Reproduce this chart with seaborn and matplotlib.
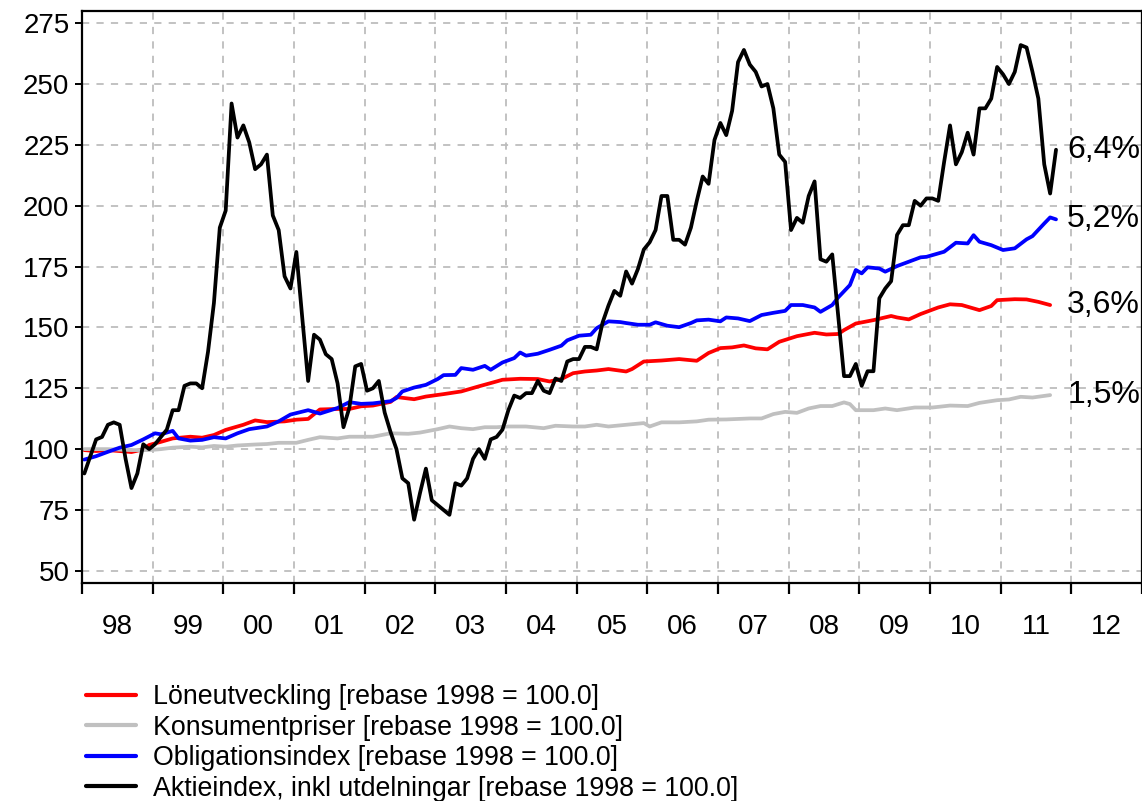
import numpy as np
import pandas as pd
import matplotlib
matplotlib.use("Agg")
import matplotlib.pyplot as plt
import seaborn as sns

# Monthly series starting January 1998, index = months since Jan 1998
START_YEAR = 1998

# Aktieindex (monthly, Jan 1998 .. Oct 2011)
aktie_values = [
    90, 97, 104, 105, 110, 111, 110, 96, 84, 90,
    102, 100, 102, 105, 108, 116, 116, 126, 127, 127,
    125, 140, 160, 191, 198, 242, 228, 233, 226, 215,
    217, 221, 196, 190, 171, 166, 181, 154, 128, 147,
    145, 139, 137, 127, 109, 117, 134, 135, 124, 125,
    128, 115, 107, 100, 88, 86, 71, 82, 92, 79,
    77, 75, 73, 86, 85, 88, 96, 100, 96, 104,
    105, 108, 116, 122, 121, 123, 123, 128, 124, 123,
    129, 128, 136, 137, 137, 142, 142, 141, 152, 159,
    165, 163, 173, 168, 174, 182, 185, 190, 204, 204,
    186, 186, 184, 191, 202, 212, 209, 227, 234, 229,
    239, 259, 264, 258, 255, 249, 250, 240, 221, 218,
    190, 195, 193, 204, 210, 178, 177, 180, 155, 130,
    130, 135, 126, 132, 132, 162, 166, 169, 188, 192,
    192, 202, 200, 203, 203, 202, 218, 233, 217, 222,
    230, 221, 240, 240, 244, 257, 254, 250, 255, 266,
    265, 255, 244, 217, 205, 223,
]
aktie_months = list(range(len(aktie_values)))

# Löneutveckling (read at selected months)
lon_months = [0, 2, 4, 6, 8, 10, 11, 13, 15, 18,
              20, 22, 24, 27, 29, 31, 34, 36, 38, 40,
              43, 45, 47, 49, 52, 53, 56, 58, 61, 64,
              67, 70, 71, 74, 77, 79, 81, 83, 85, 87,
              89, 92, 93, 95, 98, 101, 104, 106, 108, 110,
              112, 114, 116, 118, 121, 124, 126, 128, 129, 131,
              134, 137, 138, 140, 142, 145, 147, 149, 152, 154,
              155, 158, 160, 162, 164]
lon_values = [99.6, 99.2, 99.6, 99.2, 98.8, 99.9, 101.7, 103.0, 104.4, 105.1,
              104.7, 105.8, 107.9, 110.0, 111.8, 111.1, 111.4, 112.1, 112.4, 116.3,
              116.5, 116.5, 117.6, 117.9, 119.4, 121.4, 120.5, 121.6, 122.6, 123.7,
              125.8, 127.8, 128.5, 128.9, 128.8, 127.8, 128.8, 131.2, 131.9, 132.3,
              132.9, 131.9, 132.9, 136.0, 136.4, 137.0, 136.3, 139.5, 141.5, 141.8,
              142.6, 141.4, 141.0, 144.1, 146.4, 147.8, 147.1, 147.3, 148.9, 151.6,
              153.0, 154.7, 154.1, 153.3, 155.5, 158.2, 159.5, 159.2, 157.1, 158.8,
              161.2, 161.6, 161.5, 160.5, 159.2]

# Konsumentpriser
kpi_months = [0, 4, 8, 11, 13, 15, 18, 20, 22, 24,
              26, 29, 31, 33, 36, 38, 40, 43, 45, 49,
              52, 55, 57, 60, 62, 64, 66, 68, 70, 72,
              75, 78, 80, 83, 85, 87, 89, 92, 95, 96,
              98, 101, 104, 106, 109, 113, 115, 117, 119, 121,
              123, 125, 127, 129, 130, 131, 134, 136, 138, 141,
              144, 147, 150, 152, 155, 157, 159, 161, 164]
kpi_values = [100.0, 100.0, 99.6, 99.6, 100.0, 100.6, 101.0, 100.7, 101.3, 101.0,
              101.5, 101.9, 102.1, 102.6, 102.6, 103.8, 104.9, 104.4, 105.1, 105.1,
              106.5, 106.3, 106.8, 108.2, 109.3, 108.6, 108.2, 109.0, 109.0, 109.3,
              109.3, 108.6, 109.6, 109.3, 109.3, 110.0, 109.3, 110.0, 110.7, 109.3,
              111.0, 111.0, 111.4, 112.1, 112.2, 112.6, 112.6, 114.4, 115.3, 114.9,
              116.7, 117.7, 117.7, 119.2, 118.5, 116.0, 116.0, 116.7, 116.0, 117.1,
              117.1, 117.9, 117.7, 119.0, 120.1, 120.4, 121.5, 121.2, 122.2]

# Obligationsindex
obl_months = [0, 2, 4, 6, 8, 10, 12, 13, 15, 16,
              18, 20, 22, 24, 26, 28, 31, 33, 35, 38,
              40, 43, 45, 47, 49, 52, 53, 54, 56, 58,
              60, 61, 63, 64, 66, 68, 69, 71, 73, 74,
              75, 77, 79, 81, 82, 84, 86, 87, 89, 91,
              92, 94, 96, 97, 99, 101, 103, 104, 106, 108,
              109, 111, 113, 115, 117, 119, 120, 122, 124, 125,
              127, 128, 130, 131, 132, 133, 135, 136, 138, 140,
              142, 143, 146, 148, 150, 151, 152, 154, 156, 158,
              160, 161, 163, 164, 165]
obl_values = [95.7, 97.1, 98.9, 100.6, 101.7, 104.0, 106.5, 106.1, 107.5, 104.4,
              103.5, 103.8, 104.9, 104.4, 106.5, 108.2, 109.3, 111.4, 114.2, 116.0,
              114.6, 116.9, 119.3, 118.6, 118.8, 119.7, 121.0, 123.7, 125.3, 126.4,
              128.8, 130.4, 130.5, 133.3, 132.6, 134.2, 132.6, 135.6, 137.4, 139.7,
              138.4, 139.2, 140.8, 142.5, 144.7, 146.6, 147.0, 149.7, 152.5, 152.2,
              151.8, 151.1, 151.1, 152.1, 150.7, 150.1, 151.8, 152.9, 153.2, 152.5,
              154.1, 153.7, 152.6, 155.1, 156.0, 156.8, 159.2, 159.2, 158.2, 156.4,
              159.2, 162.3, 167.4, 173.6, 172.2, 174.7, 174.2, 172.9, 175.2, 177.0,
              178.8, 179.0, 181.1, 184.8, 184.5, 187.9, 185.2, 183.8, 181.8, 182.5,
              186.2, 187.5, 192.7, 195.2, 194.4]

series_names = [
    "Löneutveckling [rebase 1998 = 100.0]",
    "Konsumentpriser [rebase 1998 = 100.0]",
    "Obligationsindex [rebase 1998 = 100.0]",
    "Aktieindex, inkl utdelningar [rebase 1998 = 100.0]",
]
series_colors = ["#ff0000", "#c0c0c0", "#0000ff", "#000000"]
end_labels = ["3,6%", "1,5%", "5,2%", "6,4%"]

year_labels = ["98", "99", "00", "01", "02", "03", "04", "05",
               "06", "07", "08", "09", "10", "11", "12"]


def to_frame(months, values, name):
    t = START_YEAR + (np.asarray(months) + 0.4) / 12.0
    return pd.DataFrame({"t": t, "value": values, "serie": name})


sns.set_style("ticks")
plt.rcParams["font.family"] = ["Liberation Sans", "DejaVu Sans"]
plt.rcParams["text.color"] = "black"
plt.rcParams["xtick.color"] = "black"
plt.rcParams["ytick.color"] = "black"

frames = [
    to_frame(lon_months, lon_values, series_names[0]),
    to_frame(kpi_months, kpi_values, series_names[1]),
    to_frame(obl_months, obl_values, series_names[2]),
    to_frame(aktie_months, aktie_values, series_names[3]),
]

fig = plt.figure(figsize=(11.42, 8.01), dpi=100)
ax = fig.add_axes([82 / 1142, 1 - 583 / 801, 1060 / 1142, 572 / 801])

for df, name, color in zip(frames, series_names, series_colors):
    sns.lineplot(data=df, x="t", y="value", color=color, lw=2.7,
                 estimator=None, sort=False, label=name, ax=ax, legend=False)

# end-of-series growth labels
label_x = frames[3]["t"].iloc[-1]
for df, txt in zip(frames, end_labels):
    ax.annotate(txt, xy=(label_x, df["value"].iloc[-1]), xytext=(8, 0),
                textcoords="offset points", ha="left", va="center",
                fontsize=23, color="black", annotation_clip=False)

ax.set_xlim(1998, 2013)
ax.set_ylim(45, 280)
ax.set_xlabel("")
ax.set_ylabel("")

ax.set_xticks(np.arange(1998, 2014))
ax.set_xticklabels([])
ax.set_xticks(np.arange(1998, 2013) + 0.5, minor=True)
ax.set_xticklabels(year_labels, minor=True)
ax.set_yticks(np.arange(50, 276, 25))

ax.tick_params(axis="x", which="major", length=8, width=1.6, direction="out")
ax.tick_params(axis="x", which="minor", length=0, pad=22, labelsize=20,
               labelcolor="black")
ax.tick_params(axis="y", which="major", length=5, width=1.4, pad=4, labelsize=20,
               labelcolor="black")

ax.grid(True, which="major", color="#bdbdbd", linestyle=(0, (4, 4)), linewidth=1.3)
for side in ["left", "bottom", "top", "right"]:
    ax.spines[side].set_visible(True)
    ax.spines[side].set_color("black")
    ax.spines[side].set_linewidth(1.6)

handles, labels = ax.get_legend_handles_labels()
leg = fig.legend(handles, labels, loc="upper left",
                 bbox_to_anchor=(86 / 1142, 1 - 684 / 801),
                 frameon=False, fontsize=19.3, handlelength=1.87,
                 handletextpad=0.63, labelspacing=0.17,
                 borderpad=0, borderaxespad=0)
for line in leg.get_lines():
    line.set_linewidth(3)
for text in leg.get_texts():
    text.set_color("black")

fig.savefig("out.png", dpi=100)
